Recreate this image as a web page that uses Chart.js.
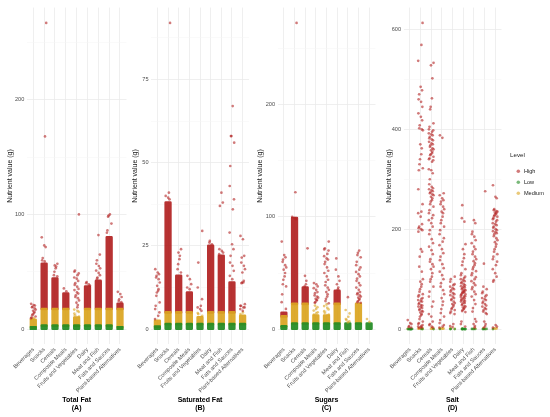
<!DOCTYPE html>
<html>
<head>
<meta charset="utf-8">
<script src="https://cdn.jsdelivr.net/npm/chart.js@4.4.1/dist/chart.umd.min.js"></script>
<style>
html,body{margin:0;padding:0;background:#fff;overflow:hidden;}
#wrap{position:relative;width:550px;height:417px;background:#fff;}
.p{position:absolute;top:0;height:417px;}
</style>
</head>
<body>
<div id="wrap">
  <div class="p" id="pA" style="left:0px;width:130px"><canvas id="cA"></canvas></div>
  <div class="p" id="pB" style="left:126px;width:127px"><canvas id="cB"></canvas></div>
  <div class="p" id="pC" style="left:251px;width:129px"><canvas id="cC"></canvas></div>
  <div class="p" id="pD" style="left:378px;width:172px"><canvas id="cD"></canvas></div>
</div>
<script>
// ---------------- DATA ----------------
const categories = ['Beverages','Snacks','Cereals','Composite Meals','Fruits and Vegetables','Dairy','Meat and Fish','Fats and Sauces','Plant-based Alternatives'];
const levels = ['High','Low','Medium'];
const yAxisTitle = 'Nutrient value (g)';

// Total Fat (A): dense ranges [lo,hi] per category, and individual sparse points per category
const fatLowBand    = [[0,1.5],[0,3],[0,3],[0,3],[0,3],[0,3],[0,3],[0,3],[0,1.5]];
const fatMediumBand = [[1.5,8],[3,17.5],[3,17.5],[3,17.5],[3,10],[3,17.5],[3,17.5],[3,17.5],[1.5,17.5]];
const fatHighBand   = [null,[17.5,57],[17.5,44],[17.5,31],null,[17.5,37],[17.5,42],[17.5,80],[17.5,22]];
const fatHighPoints = [
  [22,21,20.5,19.5,19,18,17,16,15,14,13,12,11,10,9.5],
  [267,168,80,73,71.5,62,60,59],
  [57,55.5,54.5,53,50,47,46],
  [35.5,33],
  [100,51,50,48.5,47,45,44,42,40,38.5,37,35,34,32,31,29.5,28,27,25,23,21,19],
  [41,40,39,38],
  [82,65,60,57,55,53,51,49,47,45,44],
  [100,99,98,92,86,84],
  [32.5,30.5,28,26,24.5,23.5]
];
const fatMediumPoints = [[8.5,9.5],[],[],[],[11,12,13.5,15,16,17],[],[],[],[]];
const fatLowPoints    = [[],[],[],[],[],[],[],[],[]];

// Saturated Fat (B)
const satLowBand    = [[0,0.75],[0,1.5],[0,1.5],[0,1.5],[0,1.5],[0,1.5],[0,1.5],[0,1.5],[0,1.5]];
const satMediumBand = [[0.75,2.5],[1.5,5],[1.5,5],[1.5,5],[1.5,3.5],[1.5,5],[1.5,5],[1.5,5],[1.5,4]];
const satHighBand   = [null,[5,38],[5,16],[5,11],null,[5,25],[5,22],[5,14],null];
const satHighPoints = [
  [18,17,16.5,16,15.5,15,14,13,12,11.5,11,10,8,7,6,5,4,3],
  [92,41,40,39.5,39],
  [24,23,22,21,19.5,18,17],
  [16,15,13.5,12.5,12],
  [29.5,20,12.5,9,7,6.5,6,5.5],
  [26.5,26,25.5],
  [41,38,37,24,23.5,23,22.5],
  [67,58,58,56,49,43,39,36,29,25.5,24,22,20,19,17.5,16,15],
  [28,27,22,21.5,20,19,18,17,14.5,14,14,13.8,7.5,7,7,6.5,6.5,6,5.5]
];
const satMediumPoints = [[],[],[],[],[4,4.5,4.8],[],[],[],[4.5,5]];
const satLowPoints    = [[],[],[],[],[],[],[],[],[]];

// Sugars (C)
const sugLowBand    = [[0,2.5],[0,5],[0,5],[0,5],[0,5],[0,5],[0,5],[0,5],[0,5]];
const sugMediumBand = [[2.5,11.25],[5,22.5],[5,22.5],[5,12],[5,12],[5,22.5],null,[5,22.5],null];
const sugHighBand   = [[11.25,14.5],[22.5,99],[22.5,37],null,null,[22.5,34],null,null,null];
const sugHighPoints = [
  [78,66,64,62,60,57,55,53,50,47,44,40,38,31,24,18],
  [273,122,100,99,98],
  [72,47.5,43,40,38],
  [41,40,38,36.5,35,33,32,30,29,28,27,26,25.5,24,23.5],
  [78,72,71,70,67,65,63,62,60,58,55,52,50,47,44,42,39,37,35,33,31,29,27,25,23],
  [63,53,47,43,40,37,35.5],
  [28.5],
  [70,68,66,64,60,57,55,53,51,49,47,45,43,41,39,37,35,33,32,31,30,29,28,27,26,25,24,23.5],
  []
];
const sugMediumPoints = [[],[],[],[13,14,15,16.5,18,19.5,21],[13,14.5,16,17.5,19,20.5,22],[],[6,7,8,9,11,14,17],[],[9,6.5]];
const sugLowPoints    = [[],[],[],[],[],[],[],[],[]];

// Salt (D)
const saltLowBand    = [null,null,null,null,null,null,null,null,null];
const saltMediumBand = [null,null,null,null,null,null,null,null,null];
const saltHighBand   = [null,null,null,null,null,null,null,null,null];
const saltHighPoints = [
  [18,12,10,6,4,3],
  [613,569,537,485,478,470,460,455,445,432,425,418,408,402,400,398,370,362,350,340,330,322,318,280,250,235,232,225,210,205,202,200,198,195,160,155,145,125,115,100,95,90,85,80,75,70,68,65,62,60,58,56,55,52,50,48,47,45,44,42,40,38,36,35,33,30,28,25,20,15,12,10,8,6,5,4,3,2],
  [533,528,502,462,445,440,412,405,400,398,395,392,390,388,385,382,380,378,375,372,370,368,365,362,360,358,355,352,350,348,345,342,340,338,335,320,318,312,300,290,285,282,280,278,276,274,272,270,268,265,262,258,255,250,245,238,232,228,222,218,212,205,198,190,180,172,165,158,150,140,135,130,125,120,112,105,100,95,85,75,65,55,45,30,25,15,10,8,5,3],
  [388,383,272,268,262,258,255,250,245,240,235,232,225,218,212,205,198,190,182,175,168,160,152,145,138,130,122,115,108,100,92,85,78,70,62,55,48,40,32,25,18,12,8,5,3],
  [105,100,95,90,88,85,82,80,78,75,72,70,68,65,62,60,58,55,52,50,48,45,42,40,38,35,32,30,10,6,4],
  [248,222,215,170,160,150,142,135,128,120,112,108,105,102,100,98,96,94,92,90,88,86,85,84,82,80,79,78,76,75,74,73,72,70,69,68,66,65,64,62,61,60,58,57,56,55,53,52,50,48,46,45,43,42,40,38,36,34,15,10,5],
  [218,212,195,190,185,178,172,165,160,155,150,145,140,136,132,128,124,120,116,112,108,104,100,96,92,88,84,80,75,70,65,58,50,42,35,20,15,10,6,3],
  [276,131,85,80,75,72,68,65,62,60,58,55,52,50,47,45,42,40,38,35,32,30,15,10,6,3],
  [288,265,262,240,238,236,235,233,232,230,228,226,225,222,220,218,215,212,210,208,205,203,200,198,196,194,192,190,186,182,178,174,170,165,160,155,150,145,140,135,128,120,112,105,98,95,8,5,3]
];
const saltMediumPoints = [[0.5],[0.5,0.8,1.0,1.2,1.4,1.1],[0.6,0.9,1.2,1.4],[0.5,0.8,1.1,1.4,1.3],[0.6,1.0,1.3],[0.8],[0.7,1.2],[0.6,1.1,1.4],[0.5,0.9,1.3,1.4]];
const saltLowPoints    = [[0,0.1,0.2,0.1,0.15,0.05,0.2,0.25,0.3,0],[0.1,0.2],[0.1],[0.2],[0.1,0.2,0.05],[0,0.1,0.2,0.1,0.15,0.05,0.2,0.25,0.3,0],[0.1,0.2,0.15,0.25],[0.1,0.2,0.15,0.25,0.05],[0.1]];

const panelTitles = [['Total Fat','(A)'],['Saturated Fat','(B)'],['Sugars','(C)'],['Salt','(D)']];
const majorSteps = [100, 25, 100, 200];

// ---------------- STYLE / LAYOUT ----------------
const FONT = "'Liberation Sans', Arial, Helvetica, sans-serif";
const COLORS = {High:[178,34,34], Low:[34,139,34], Medium:[218,165,32]};
const rgba = (c,a) => `rgba(${c[0]},${c[1]},${c[2]},${a})`;
const JIT = [-0.2,0.12,-0.05,0.19,-0.13,0.03,0.22,-0.1,0.08,-0.18,0.15,-0.02,0.21,-0.22,0.05,-0.08,0.11,-0.16,0.01,0.17,-0.12,0.07,-0.21,0.14];
const POINT_R = 1.35;

const layouts = [
  {id:'cA', padL:5.8, padR:3.5, yw:21},
  {id:'cB', padL:4.8, padR:4,   yw:20.2},
  {id:'cC', padL:4.5, padR:4.5, yw:22},
  {id:'cD', padL:6.8, padR:0,   yw:18.7, legend:true, gap:8.6, legendW:39.9}
];

function toPoints(arr){
  const out=[];
  arr.forEach((vals,i)=>vals.forEach((v,k)=>out.push({x:i+JIT[(k*5+i*3)%JIT.length], y:v})));
  return out;
}
function toBands(arr){
  const out=[];
  arr.forEach((r,i)=>{ if (r) out.push({x:i, y:[r[0], r[1]]}); });
  return out;
}

const panelData = [
  {high:fatHighPoints, low:fatLowPoints, medium:fatMediumPoints, highBand:fatHighBand, lowBand:fatLowBand, mediumBand:fatMediumBand},
  {high:satHighPoints, low:satLowPoints, medium:satMediumPoints, highBand:satHighBand, lowBand:satLowBand, mediumBand:satMediumBand},
  {high:sugHighPoints, low:sugLowPoints, medium:sugMediumPoints, highBand:sugHighBand, lowBand:sugLowBand, mediumBand:sugMediumBand},
  {high:saltHighPoints, low:saltLowPoints, medium:saltMediumPoints, highBand:saltHighBand, lowBand:saltLowBand, mediumBand:saltMediumBand}
];

function makePanel(pi){
  const d = panelData[pi], L = layouts[pi], major = majorSteps[pi];
  const vals=[];
  [d.high,d.low,d.medium].forEach(a=>a.forEach(v=>vals.push(...v)));
  [d.highBand,d.lowBand,d.mediumBand].forEach(a=>a.forEach(r=>{ if (r) vals.push(r[0],r[1]); }));
  const dmax = Math.max(...vals), dmin = Math.min(0,...vals);
  const span = dmax-dmin;
  const ymin = dmin-0.05*span, ymax = dmax+0.05*span;

  const pointDS = (lvl, arr) => ({
    type:'scatter', label: lvl, data: toPoints(arr),
    backgroundColor: rgba(COLORS[lvl],0.6), borderColor: rgba(COLORS[lvl],0.6),
    pointBackgroundColor: rgba(COLORS[lvl],0.6), pointBorderWidth:0, borderWidth:0,
    pointRadius:POINT_R, pointHoverRadius:POINT_R, pointStyle:'circle'
  });
  const bandDS = (lvl, arr) => ({
    type:'bar', label: lvl+' (dense)', data: toBands(arr),
    backgroundColor: rgba(COLORS[lvl],0.93), borderWidth:0, borderSkipped:false,
    borderRadius:1.3, inflateAmount:POINT_R, barThickness:4.6, grouped:false
  });

  const datasets = [
    pointDS('High', d.high), pointDS('Low', d.low), pointDS('Medium', d.medium),
    bandDS('Low', d.lowBand), bandDS('Medium', d.mediumBand), bandDS('High', d.highBand)
  ];

  const scales = {
    x:{
      type:'linear', min:-0.6, max:8.6, offset:false,
      afterBuildTicks(s){ s.ticks = categories.map((c,i)=>({value:i})); },
      afterFit(s){ s.height = 72.6; s.paddingLeft = 0; s.paddingRight = 0; },
      grid:{color:'#ebebeb', lineWidth:0.8, drawTicks:false, offset:false},
      border:{display:false},
      ticks:{autoSkip:false, minRotation:45, maxRotation:45, padding:2, color:'#4d4d4d',
             font:{family:FONT, size:5.6}, callback:(v)=>categories[v]},
      title:{display:true, text:panelTitles[pi], color:'#000',
             font:{family:FONT, size:7, weight:'bold', lineHeight:1.2}, padding:{top:0,bottom:4.5}}
    },
    y:{
      type:'linear', min:ymin, max:ymax,
      afterBuildTicks(s){ const t=[]; for(let v=0; v<=ymax; v+=major/2) t.push({value:v}); s.ticks=t; },
      afterFit(s){ s.width = L.yw; s.paddingTop = 0; s.paddingBottom = 0; },
      grid:{drawTicks:false,
            color:(c)=> (c.tick && c.tick.value % major === 0) ? '#ebebeb' : '#f5f5f5',
            lineWidth:(c)=> (c.tick && c.tick.value % major === 0) ? 0.8 : 0.5},
      border:{display:false},
      ticks:{autoSkip:false, padding:2.5, color:'#4d4d4d', font:{family:FONT, size:5.6},
             callback:(v)=> (v % major === 0) ? String(v) : ''},
      title:{display:true, text:yAxisTitle, color:'#1a1a1a', font:{family:FONT, size:7, lineHeight:1.2}, padding:{top:0,bottom:0}}
    }
  };
  if (L.legend){
    scales.gap = {type:'linear', position:'right', display:true,
      grid:{display:false, drawTicks:false}, ticks:{display:false}, border:{display:false},
      afterFit(s){ s.width = L.gap; }};
  }

  const legend = L.legend ? {
    display:true, position:'right', align:'center', fullSize:false, maxWidth:L.legendW,
    title:{display:true, text:'Level', color:'#1a1a1a', position:'start', font:{family:FONT, size:6.2}, padding:{top:2,bottom:3}},
    labels:{usePointStyle:true, boxWidth:6, boxHeight:2.5, padding:5.4, color:'#1a1a1a',
            font:{family:FONT, size:5.6}, filter:(item)=> item.datasetIndex < 3}
  } : {display:false};

  new Chart(document.getElementById(L.id), {
    type:'scatter',
    data:{datasets},
    options:{
      responsive:true, maintainAspectRatio:false, animation:false, events:[],
      layout:{padding:{left:L.padL, right:L.padR, top:7.6, bottom:0}},
      plugins:{legend, tooltip:{enabled:false}, title:{display:false}},
      scales
    }
  });
}

[0,1,2,3].forEach(makePanel);
</script>
</body>
</html>
